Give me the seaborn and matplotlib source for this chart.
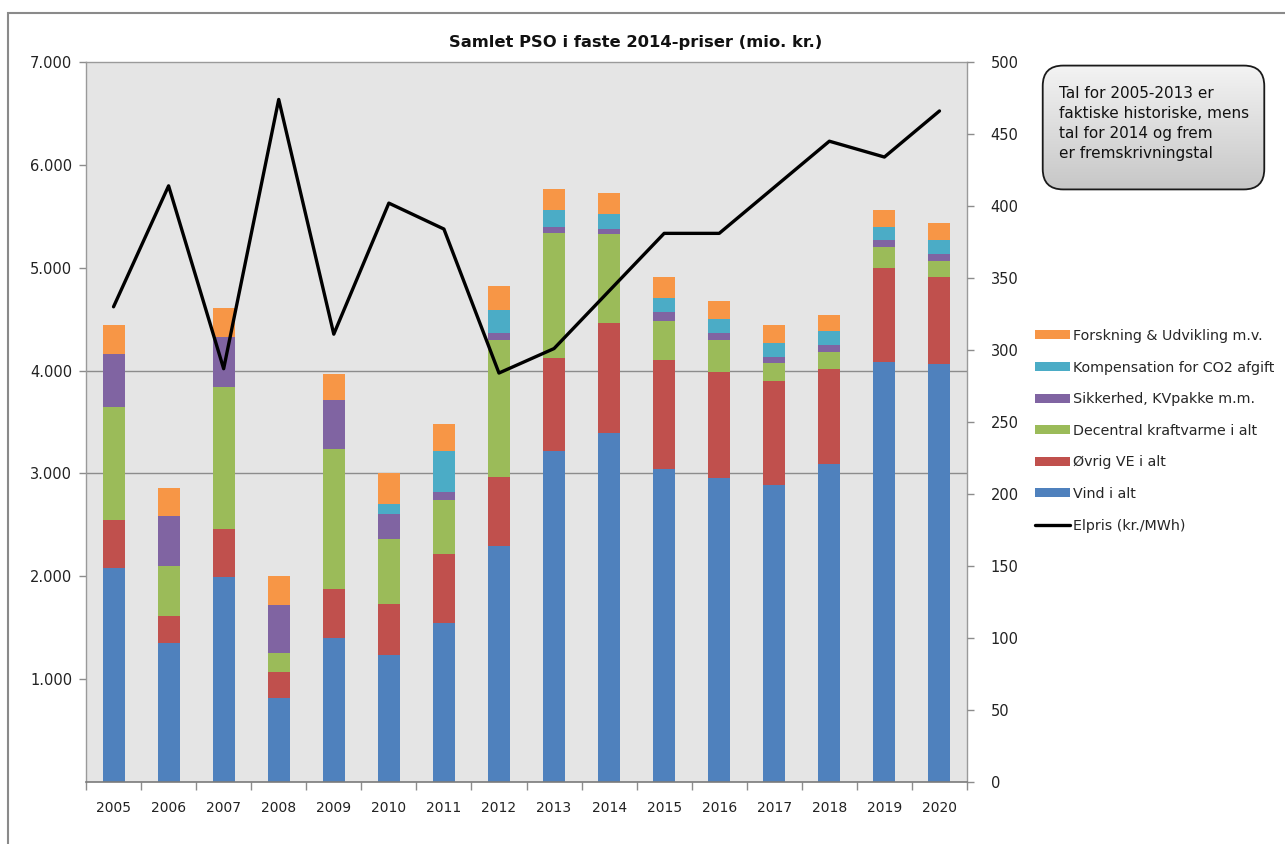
import numpy as np
import pandas as pd
import matplotlib
matplotlib.use("Agg")
import matplotlib.pyplot as plt
import seaborn as sns
from matplotlib.patches import Rectangle, FancyBboxPatch, Patch
from matplotlib.lines import Line2D
from matplotlib.ticker import FuncFormatter, FixedLocator

# ---------------- data ----------------
years = [str(y) for y in range(2005, 2021)]
vind = [2080, 1350, 1990, 815, 1400, 1230, 1550, 2295, 3220, 3390, 3045, 2960, 2885, 3090, 4085, 4060]
ovrig_ve = [470, 260, 470, 255, 480, 500, 670, 675, 900, 1070, 1060, 1025, 1010, 925, 910, 850]
decentral = [1100, 490, 1380, 185, 1360, 630, 520, 1330, 1215, 865, 380, 315, 180, 165, 205, 155]
sikkerhed = [510, 485, 490, 465, 470, 250, 75, 70, 65, 50, 80, 65, 60, 65, 70, 70]
kompensation = [0, 0, 0, 0, 0, 90, 400, 220, 160, 150, 140, 140, 135, 135, 130, 130]
forskning = [280, 275, 275, 280, 260, 300, 270, 230, 210, 200, 200, 175, 170, 160, 160, 170]
elpris = [330, 414, 287, 474, 311, 402, 384, 284, 301, 341, 381, 381, 413, 445, 434, 466]

series_names = ["Vind i alt", "Øvrig VE i alt", "Decentral kraftvarme i alt",
                "Sikkerhed, KVpakke m.m.", "Kompensation for CO2 afgift",
                "Forskning & Udvikling m.v."]
series_values = [vind, ovrig_ve, decentral, sikkerhed, kompensation, forskning]
series_colors = ["#4F81BD", "#C0504D", "#9BBB59", "#8064A2", "#4BACC6", "#F79646"]
line_name = "Elpris (kr./MWh)"

left_ticks = [1000, 2000, 3000, 4000, 5000, 6000, 7000]
right_ticks = list(range(0, 501, 50))
grid_values = [3000, 4000]
title = "Samlet PSO i faste 2014-priser (mio. kr.)"
note_text = "Tal for 2005-2013 er\nfaktiske historiske, mens\ntal for 2014 og frem\ner fremskrivningstal"

# ---------------- figure ----------------
sns.set_theme(style="white")
plt.rcParams["font.family"] = ["DejaVu Sans"]

W, H = 1285, 844
fig = plt.figure(figsize=(W / 100, H / 100), dpi=100)
fig.patch.set_facecolor("white")

ax = fig.add_axes([86 / W, 1 - 782 / H, (967 - 86) / W, (782 - 62) / H])
ax.set_facecolor("#E5E5E5")

df = pd.DataFrame({"year": years})
cum = np.zeros(len(years))
cums = []
for vals in series_values:
    cum = cum + np.array(vals, dtype=float)
    cums.append(cum.copy())

# draw from the tallest cumulative down so lower layers overlay
for name, c, color in reversed(list(zip(series_names, cums, series_colors))):
    sns.barplot(x=df["year"], y=c, color=color, width=0.4, saturation=1,
                ax=ax, order=years, zorder=2, linewidth=0)

for g in grid_values:
    ax.axhline(g, color="#8C8C8C", lw=1.0, zorder=1)

ax.set_ylim(0, 7000)
ax.set_xlim(-0.5, len(years) - 0.5)
ax.set_xlabel("")
ax.set_ylabel("")
ax.yaxis.set_major_locator(FixedLocator(left_ticks))
ax.yaxis.set_major_formatter(FuncFormatter(lambda v, p: f"{int(v):,}".replace(",", ".")))
ax.tick_params(axis="y", which="major", length=5, width=1, color="#8C8C8C",
               labelsize=10.5, labelcolor="#222222", pad=5, left=True)
ax.tick_params(axis="x", which="major", length=0, labelsize=10,
               labelcolor="#222222", pad=14)
ax.set_xticks(np.arange(-0.5, len(years)), minor=True)
ax.tick_params(axis="x", which="minor", length=6, width=1, color="#8C8C8C", bottom=True)
for s in ["left", "top", "right"]:
    ax.spines[s].set_color("#9A9A9A")
    ax.spines[s].set_linewidth(1.0)
ax.spines["bottom"].set_color("#7A7A7A")
ax.spines["bottom"].set_linewidth(1.2)

fig.text(636 / W, 1 - 42 / H, title, fontsize=11.8, fontweight="bold",
         color="#111111", ha="center", va="center")

# line on the secondary axis
ax2 = ax.twinx()
sns.lineplot(x=np.arange(len(years)), y=elpris, ax=ax2, color="black",
             linewidth=2.4, zorder=5)
ax2.set_ylim(0, 500)
ax2.set_xlim(-0.5, len(years) - 0.5)
ax2.yaxis.set_major_locator(FixedLocator(right_ticks))
ax2.yaxis.set_major_formatter(FuncFormatter(lambda v, p: f"{int(v)}"))
ax2.tick_params(axis="y", length=5, width=1, color="#8C8C8C", labelsize=10.5,
                labelcolor="#222222", pad=12, right=True)
ax2.set_ylabel("")
for s in ax2.spines.values():
    s.set_visible(False)
ax2.grid(False)
ax.grid(False)

# legend
handles = [Patch(facecolor=c, edgecolor="none") for c in reversed(series_colors)]
handles.append(Line2D([0], [0], color="black", lw=2.4))
labels = list(reversed(series_names)) + [line_name]
fig.legend(handles, labels, loc="upper left", bbox_to_anchor=(1035 / W, 1 - 329 / H),
           frameon=False, fontsize=10.3, handlelength=2.45, handleheight=0.6,
           handletextpad=0.2, labelspacing=1.23, borderaxespad=0, borderpad=0)

# note box with gradient
box_l, box_b, box_w, box_h = 1040 / W, 1 - 192 / H, (1267 - 1040) / W, (192 - 63) / H
bax = fig.add_axes([box_l, box_b, box_w, box_h])
bax.set_xlim(0, 1)
bax.set_ylim(0, 1)
bax.axis("off")
grad = np.linspace(0, 1, 256).reshape(-1, 1)
img = bax.imshow(grad, cmap=matplotlib.colors.LinearSegmentedColormap.from_list(
    "g", ["#F4F4F4", "#C6C6C6"]), extent=(0, 1, 0, 1), aspect="auto", origin="upper")
fb = FancyBboxPatch((0.012, 0.02), 0.976, 0.96,
                    boxstyle="round,pad=0,rounding_size=0.09",
                    mutation_aspect=box_w * W / (box_h * H),
                    facecolor="none", edgecolor="#1A1A1A", lw=1.3,
                    transform=bax.transAxes)
bax.add_patch(fb)
img.set_clip_path(fb)
bax.text(0.083, 0.82, note_text, transform=bax.transAxes, va="top", ha="left",
         fontsize=11, color="#111111", linespacing=1.42)

# outer frame
fig.add_artist(Rectangle((8 / W, -0.05), 1.2, 1 - 13 / H + 0.05,
                         transform=fig.transFigure, fill=False,
                         edgecolor="#8A8A8A", lw=1.5))

fig.savefig("out.png", dpi=100)
